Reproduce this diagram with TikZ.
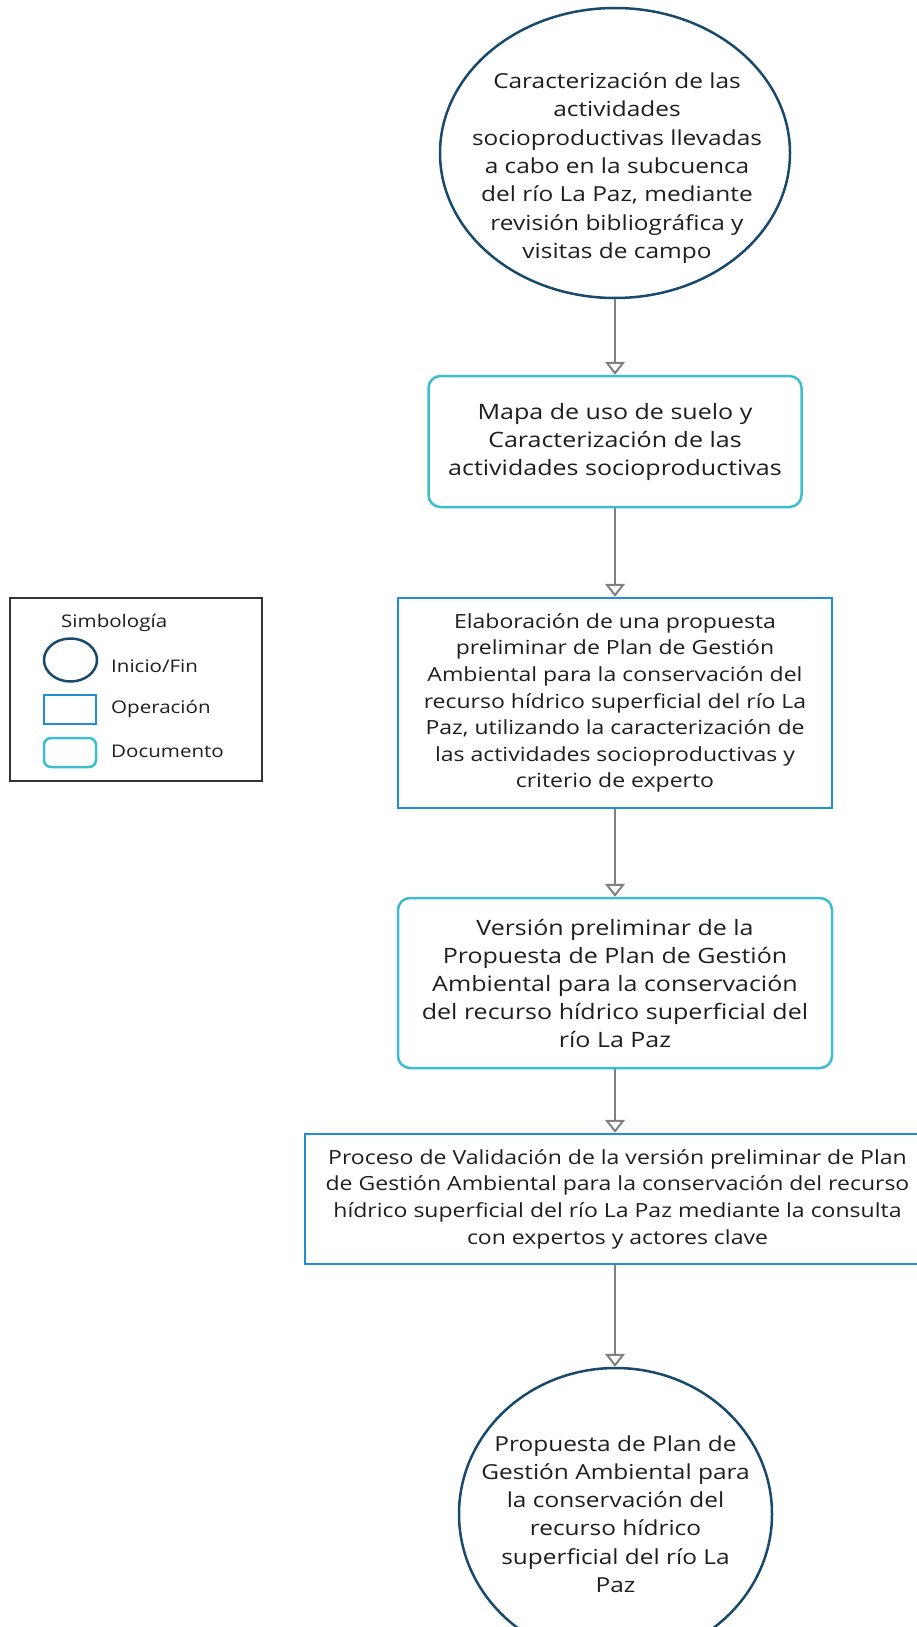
\documentclass[tikz,border=0pt]{standalone}
\usepackage{fontspec}
\setmainfont{Open Sans}[FakeStretch=1.18]
\usetikzlibrary{arrows.meta, shapes.geometric}

\definecolor{navy}{HTML}{19496B}
\definecolor{opblue}{HTML}{1E90D2}
\definecolor{doccyan}{HTML}{3CBDD0}
\definecolor{txtgray}{HTML}{1E1E1E}
\definecolor{arrgray}{HTML}{808080}
\definecolor{framegray}{HTML}{333333}

\begin{document}
\begin{tikzpicture}[x=1pt, y=1pt,
  startend/.style={ellipse, draw=navy, line width=2.5pt, inner sep=0pt},
  opbox/.style={rectangle, draw=opblue, line width=2.5pt, inner sep=0pt},
  docbox/.style={rectangle, rounded corners=12pt, draw=doccyan, line width=2.5pt, inner sep=0pt},
  txt/.style={text=txtgray, align=center, inner sep=0pt},
  setxt/.style={txt, font=\fontsize{20.7}{28.3}\selectfont},
  doctxt/.style={txt, font=\fontsize{21.2}{28}\selectfont},
  optxt/.style={txt, font=\fontsize{19.5}{26.6}\selectfont},
  legtxt/.style={text=txtgray, font=\fontsize{17.4}{20}\selectfont, inner sep=0pt},
  flow/.style={draw=arrgray, line width=2pt, -{Triangle[open, width=20pt, length=13pt]}},
]
\useasboundingbox (0,0) rectangle (916,-1627);

% --- flow chart ---
\node[startend, minimum width=350, minimum height=290] (start) at (615,-153) {};
\node[setxt] (start-t) at (617,-168) {Caracterización de las\\actividades\\socioproductivas llevadas\\a cabo en la subcuenca\\del río La Paz, mediante\\revisión bibliográfica y\\visitas de campo};

\node[docbox, minimum width=373, minimum height=131, doctxt] (doc1) at (615,-441.5)
  {Mapa de uso de suelo y\\Caracterización de las\\actividades socioproductivas};

\node[opbox, minimum width=434, minimum height=210, optxt] (op1) at (615,-703)
  {Elaboración de una propuesta\\preliminar de Plan de Gestión\\Ambiental para la conservación del\\recurso hídrico superficial del río La\\Paz, utilizando la caracterización de\\las actividades socioproductivas y\\criterio de experto};

\node[docbox, minimum width=434, minimum height=170, doctxt] (doc2) at (615,-983)
  {Versión preliminar de la\\Propuesta de Plan de Gestión\\Ambiental para la conservación\\del recurso hídrico superficial del\\río La Paz};

\node[opbox, minimum width=625, minimum height=130, optxt] (op2) at (617.5,-1199)
  {Proceso de Validación de la versión preliminar de Plan\\de Gestión Ambiental para la conservación del recurso\\hídrico superficial del río La Paz mediante la consulta\\con expertos y actores clave};

\node[startend, minimum width=313, minimum height=292] (finish) at (615.5,-1514) {};
\node[setxt] (finish-t) at (615.5,-1514)
  {Propuesta de Plan de\\Gestión Ambiental para\\la conservación del\\recurso hídrico\\superficial del río La\\Paz};

\draw[flow] (start.south) -- (doc1.north);
\draw[flow] (doc1.south) -- (op1.north);
\draw[flow] (op1.south) -- (doc2.north);
\draw[flow] (doc2.south) -- (op2.north -| doc2.south);
\draw[flow] (op2.south -| doc2.south) -- (finish.north -| doc2.south);

% --- legend ---
\node[draw=framegray, line width=2.5pt, minimum width=252, minimum height=183, inner sep=0pt] (legend) at (136,-689.5) {};
\node[legtxt, anchor=west] (leg-title) at (61,-623) {Simbología};
\node[startend, minimum width=53, minimum height=43] (leg-se) at (70.5,-660) {};
\node[legtxt, anchor=west] (leg-se-t) at (111,-666) {Inicio/Fin};
\node[opbox, minimum width=52, minimum height=29] (leg-op) at (70,-709.5) {};
\node[legtxt, anchor=west] (leg-op-t) at (111,-709) {Operación};
\node[docbox, rounded corners=7pt, minimum width=52, minimum height=29] (leg-doc) at (70,-752.5) {};
\node[legtxt, anchor=west] (leg-doc-t) at (111,-751) {Documento};
\end{tikzpicture}
\end{document}
